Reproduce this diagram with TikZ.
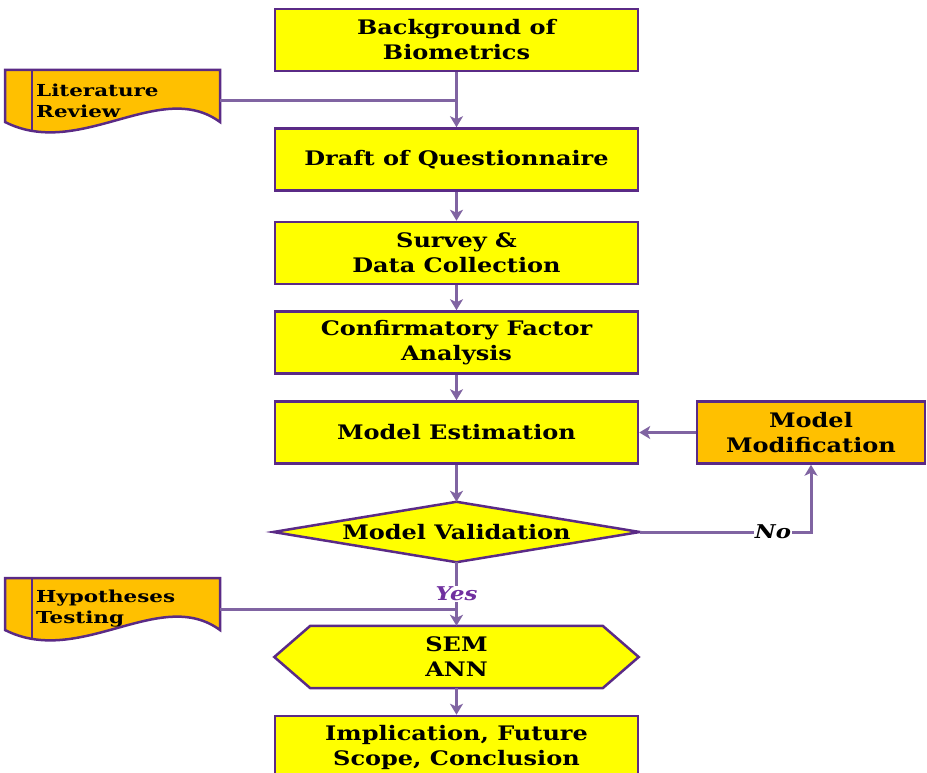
\documentclass[tikz,border=0pt]{standalone}
\usepackage{fontspec}
\setmainfont{DejaVu Serif}[FakeStretch=1.2]
\newfontfamily\docfont{DejaVu Serif}[FakeStretch=1.3]
\usetikzlibrary{arrows.meta}
\definecolor{boxyellow}{HTML}{FFFF00}
\definecolor{docorange}{HTML}{FFC000}
\definecolor{linepurple}{HTML}{8064A2}
\definecolor{edgepurple}{HTML}{5A2A86}
\definecolor{yespurple}{HTML}{7030A0}
\newcommand{\docshape}[3]{%
\begin{scope}[shift={(0,#1)}]
  \path[fill=docorange] (5,70) -- (220,70) -- (220,122) .. controls (160,78) and (80,160) .. (5,122) -- cycle;
  \begin{scope}
    \clip (5,70) -- (220,70) -- (220,122) .. controls (160,78) and (80,160) .. (5,122) -- cycle;
    \draw[edge] (32,60) -- (32,150);
  \end{scope}
  \draw[edge] (5,70) -- (220,70) -- (220,122) .. controls (160,78) and (80,160) .. (5,122) -- cycle;
  \node[doctext] (#2) at (36,101) {#3};
  \coordinate (#2out) at (220,101);
\end{scope}}
\begin{document}
\begin{tikzpicture}[x=1pt,y=-1pt,
  edge/.style={draw=edgepurple, line width=2.5pt, line join=miter},
  stepbox/.style={rectangle, edge, fill=boxyellow, minimum width=363pt, minimum height=62pt,
    inner sep=0pt, align=center, font=\fontsize{20}{25}\selectfont\bfseries},
  modbox/.style={stepbox, fill=docorange, minimum width=228pt},
  shapetext/.style={rectangle, inner sep=0pt, align=center, font=\fontsize{20}{25}\selectfont\bfseries},
  doctext/.style={anchor=west, inner sep=0pt, align=left, font=\docfont\fontsize{16.5}{21}\selectfont\bfseries},
  conn/.style={draw=linepurple, line width=3pt},
  arrow/.style={conn, -{Stealth[length=11pt,width=13pt,inset=3pt]}},
  yeslabel/.style={inner sep=1pt, text=yespurple, font=\fontsize{19}{20}\selectfont\bfseries\itshape},
  nolabel/.style={inner sep=1pt, fill=white, text=black, font=\fontsize{19}{20}\selectfont\bfseries\itshape}
]
\useasboundingbox (0,0) rectangle (927,773);

\node[stepbox] (b1) at (456.5,40) {Background of\\Biometrics};
\node[stepbox] (b2) at (456.5,159.5) {Draft of Questionnaire};
\node[stepbox] (b3) at (456.5,253) {Survey \&\\Data Collection};
\node[stepbox] (b4) at (456.5,342.5) {Confirmatory Factor\\Analysis};
\node[stepbox] (b5) at (456.5,432.5) {Model Estimation};
\node[modbox] (mm) at (811,432.5) {Model\\Modification};

% decision diamond
\node[shapetext, minimum width=366pt, minimum height=60pt] (val) at (456.5,532) {};
\draw[edge, fill=boxyellow] (val.west) -- (val.north) -- (val.east) -- (val.south) -- cycle;
\node[shapetext] (valtxt) at (val.center) {Model Validation};

% hexagon
\node[shapetext, minimum width=364pt, minimum height=62pt] (sem) at (456.5,657) {};
\draw[edge, fill=boxyellow] (sem.west) -- ([xshift=36pt]sem.north west) -- ([xshift=-36pt]sem.north east)
  -- (sem.east) -- ([xshift=-36pt]sem.south east) -- ([xshift=36pt]sem.south west) -- cycle;
\node[shapetext] (semtxt) at (sem.center) {SEM\\ANN};

\node[stepbox] (b7) at (456.5,747) {Implication, Future\\Scope, Conclusion};

\docshape{0}{lit}{Literature\\Review}
\docshape{508}{hyp}{Hypotheses\\Testing}

% connectors
\draw[arrow] (b1.south) -- (b2.north);
\draw[conn] (litout) -- (litout -| b1.south);
\draw[arrow] (b2.south) -- (b3.north);
\draw[arrow] (b3.south) -- (b4.north);
\draw[arrow] (b4.south) -- (b5.north);
\draw[arrow] (b5.south) -- (val.north);
\draw[arrow] (mm.west) -- (b5.east);
\node[yeslabel] (yes) at (456.5,594) {Yes};
\draw[conn] (val.south) -- (yes.north);
\draw[arrow] (yes.south) -- (yes.south |- sem.north);
\draw[conn] (hypout) -- (hypout -| yes.south);
\draw[arrow] (val.east) -| (mm.south);
\node[nolabel] (no) at (773,532) {No};
\draw[arrow] (sem.south) -- (b7.north);
\end{tikzpicture}
\end{document}
